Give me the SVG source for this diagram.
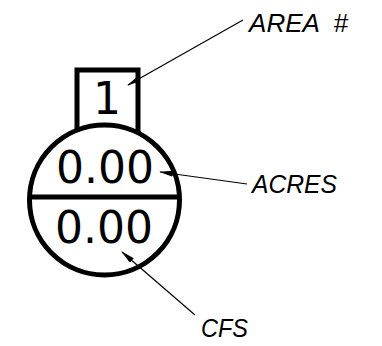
<svg xmlns="http://www.w3.org/2000/svg" width="382" height="346" viewBox="0 0 382 346">
<defs>
<style>
.thick{fill:none;stroke:#000;stroke-width:5}
.lead{fill:none;stroke:#000;stroke-width:1.2}
.num{font-family:"DejaVu Sans","Liberation Sans",sans-serif;fill:#000;text-anchor:middle}
.lbl{font-family:"Liberation Sans",Arial,sans-serif;font-style:italic;font-size:26px;fill:#000}
</style>
<marker id="ah" markerWidth="14" markerHeight="6" refX="13" refY="3" orient="auto" markerUnits="userSpaceOnUse">
<path d="M0,0 L14,3 L0,6 Z" fill="#000"/>
</marker>
</defs>
<g id="area-box">
<path class="thick" d="M77,132 L77,70 L138,70 L138,132"/>
<text class="num" x="107" y="114" font-size="44">1</text>
</g>
<g id="circle">
<circle class="thick" cx="104.5" cy="200" r="75"/>
<line class="thick" x1="30" y1="197" x2="179" y2="197" stroke-width="6"/>
<text class="num" x="105" y="183" font-size="44">0.00</text>
<text class="num" x="104" y="243" font-size="44">0.00</text>
</g>
<g id="connectors">
<line class="lead" x1="243" y1="20" x2="128" y2="85" marker-end="url(#ah)"/>
<line class="lead" x1="247" y1="184" x2="160" y2="172" marker-end="url(#ah)"/>
<line class="lead" x1="195" y1="315" x2="122" y2="252" marker-end="url(#ah)"/>
</g>
<g id="labels">
<text class="lbl" x="249" y="32" textLength="99" lengthAdjust="spacing" xml:space="preserve">AREA  #</text>
<text class="lbl" x="252" y="193" textLength="85" lengthAdjust="spacingAndGlyphs">ACRES</text>
<text class="lbl" x="201" y="337" textLength="47" lengthAdjust="spacingAndGlyphs">CFS</text>
</g>
</svg>
